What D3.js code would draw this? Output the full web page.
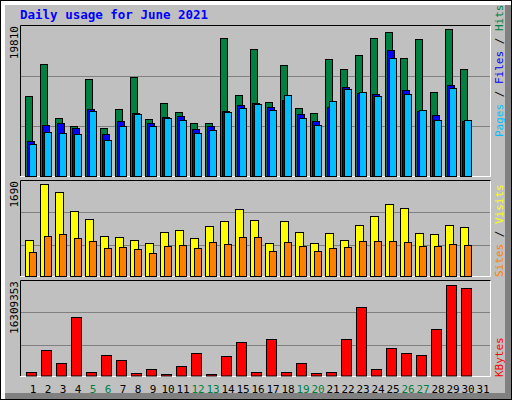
<!DOCTYPE html>
<html><head><meta charset="utf-8">
<script src="https://cdn.jsdelivr.net/npm/d3@7"></script>
<style>body{margin:0;background:#fff}svg{display:block}</style>
</head><body>
<script>
const days = d3.range(1, 32);
const weekend = [5, 6, 12, 13, 19, 20, 26, 27];
const hits = [10566,14792,7660,6604,12811,6339,8849,13075,7528,9641,8452,7000,7000,18226,10698,16773,9773,14660,8981,8320,15452,14131,15980,18226,19018,15584,18094,11094,19414,14131,0];
const files = [4622,6736,7000,6339,8849,5547,7264,8320,7000,7792,7924,6207,6604,8584,9377,9641,9113,10037,8188,7264,9113,11754,10962,10830,16641,11358,8584,8056,12018,7264,0];
const pages = [4226,5811,5679,5547,8584,4755,6604,8188,6604,7660,7396,5679,6075,8452,8981,9509,8717,10698,7660,6736,9905,11490,11094,10566,15584,10830,8717,7396,11622,7396,0];
const visits = [634,1620,1479,1144,1003,704,687,634,581,775,810,669,880,968,1179,986,581,968,775,581,757,634,898,1056,1267,1197,757,739,898,863,0];
const sites = [422,704,739,669,616,493,511,475,405,528,546,493,599,563,687,687,440,599,528,440,493,511,616,616,616,599,528,528,563,546,0];
const kbytes = [595000,4520000,2200000,10420000,595000,3630000,2740000,417000,1130000,238000,1670000,3990000,238000,3450000,5950000,595000,6490000,595000,2200000,417000,595000,6490000,12200000,1130000,4880000,3990000,3630000,8270000,16309353,15770000,0];
const maxHits = 19810, maxVisits = 1690, maxKB = 16309353;

const W = 512, H = 400;
const svg = d3.select("body").append("svg").attr("width", W).attr("height", H);
const FONT = "'DejaVu Sans Mono', monospace";

// outer frame
svg.append("rect").attr("x",0).attr("y",0).attr("width",W).attr("height",H).attr("fill","#000");
svg.append("rect").attr("x",1).attr("y",1).attr("width",W-2).attr("height",H-2).attr("fill","#fff");
svg.append("rect").attr("x",5).attr("y",5).attr("width",W-6).attr("height",H-6).attr("fill","#808080");
svg.append("rect").attr("x",5).attr("y",5).attr("width",W-12).attr("height",H-12).attr("fill","#C0C0C0");

svg.append("text").attr("x",20).attr("y",19).attr("fill","#0000FF")
  .attr("font-family",FONT).attr("font-weight","bold").attr("font-size",12.5)
  .text("Daily usage for June 2021");

const x = d3.scaleLinear().domain([1, 31]).range([25, 475]);

const panels = [
  {top:25, bottom:177},
  {top:180, bottom:277},
  {top:280, bottom:377}
];
panels.forEach(p => {
  const g = svg.append("g");
  const h = p.bottom - p.top;
  [1/3, 2/3].forEach(f => {
    const yy = Math.round(p.bottom - h*f) + 0.5;
    g.append("line").attr("x1",21).attr("x2",490).attr("y1",yy).attr("y2",yy).attr("stroke","#808080");
  });
  g.append("path").attr("d",`M20.5,${p.bottom}V${p.top+0.5}H491`).attr("fill","none").attr("stroke","#000");
  g.append("path").attr("d",`M20,${p.bottom-0.5}H490.5V${p.top+0.5}`).attr("fill","none").attr("stroke","#fff");
});

const yHits = d3.scaleLinear().domain([0, maxHits]).range([176, 26]);
const yVis = d3.scaleLinear().domain([0, maxVisits]).range([276, 180.5]);
const yKB = d3.scaleLinear().domain([0, maxKB]).range([375.5, 284.5]);

function bars(data, y, dx, w, color) {
  svg.append("g").selectAll("rect").data(data.map((v,i)=>({v,d:days[i]})).filter(o=>o.v>0))
    .join("rect")
    .attr("x", o => x(o.d) + dx + 0.5)
    .attr("y", o => Math.round(y(o.v)) + 0.5)
    .attr("width", w)
    .attr("height", o => Math.max(1, y(0) - Math.round(y(o.v))))
    .attr("fill", color).attr("stroke", "#000");
}
// per-day drawing order
days.forEach((d,i) => {
  if (!hits[i]) return;
  [[hits,0,"#008040"],[files,2,"#0000FF"],[pages,4,"#00C0FF"]].forEach(([arr,dx,c])=>{
    svg.append("rect").attr("x",x(d)+dx+0.5).attr("y",Math.round(yHits(arr[i]))+0.5)
      .attr("width",7).attr("height",176-Math.round(yHits(arr[i]))).attr("fill",c).attr("stroke","#000");
  });
});
bars(visits, yVis, 0, 8, "#FFFF00");
bars(sites, yVis, 4, 7, "#FF8000");
bars(kbytes, yKB, 1, 10, "#FF0000");

// day labels
svg.append("g").selectAll("text").data(days).join("text")
  .attr("x", d => x(d) + 8).attr("y", 393).attr("text-anchor","middle")
  .attr("font-family",FONT).attr("font-size",11)
  .attr("fill", d => weekend.includes(d) ? "#008040" : "#000")
  .text(d => d);

// left max labels
[["19810",26],["1690",181],["16309353",281]].forEach(([t,yy])=>{
  svg.append("text").attr("transform",`translate(18,${yy}) rotate(-90)`)
    .attr("text-anchor","end").attr("font-family",FONT).attr("font-size",11).text(t);
});

// right legends
function legend(parts, yEnd) {
  const t = svg.append("text").attr("transform",`translate(503,${yEnd}) rotate(-90)`)
    .attr("text-anchor","start").attr("font-family",FONT).attr("font-size",11);
  parts.forEach(([s,c]) => t.append("tspan").attr("fill",c).text(s));
}
legend([["Pages","#00C0FF"],[" / ","#000"],["Files","#0000FF"],[" / ","#000"],["Hits","#008040"]], 137);
legend([["Sites","#FF8000"],[" / ","#000"],["Visits","#FFFF00"]], 277);
legend([["KBytes","#FF0000"]], 377);
</script>
</body></html>
